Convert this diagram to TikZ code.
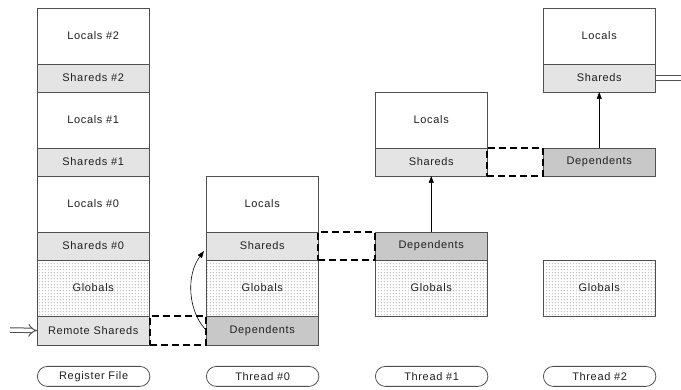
\documentclass[tikz,border=0pt]{standalone}
\usepackage{fontspec}
\setmainfont{Liberation Sans}[LetterSpace=6]
\usetikzlibrary{patterns,arrows.meta}
\definecolor{edge}{HTML}{505050}
\definecolor{shfill}{HTML}{E4E4E4}
\definecolor{depfill}{HTML}{C8C8C8}
\definecolor{txt}{HTML}{202020}
\pgfdeclarepatternformonly{sparsedots}{\pgfqpoint{-1pt}{-1pt}}{\pgfqpoint{2pt}{2pt}}{\pgfqpoint{3pt}{3pt}}{%
  \pgfpathrectangle{\pgfqpoint{0pt}{0pt}}{\pgfqpoint{1pt}{1pt}}\pgfusepath{fill}}
\tikzset{
  cell/.style={draw=edge, line width=0.9pt, anchor=north west, inner sep=0pt, outer sep=0pt,
    minimum width=112.5pt, font=\fontsize{11}{13}\selectfont, text=txt},
  loc/.style={cell, fill=white, minimum height=56pt},
  shr/.style={cell, fill=shfill, minimum height=28pt},
  dep/.style={cell, fill=depfill, minimum height=28pt},
  glob/.style={cell, pattern=sparsedots, pattern color=black!55, minimum height=56pt},
  remote/.style={cell, fill=shfill, minimum height=29pt},
  gap/.style={draw=black, line width=1.8pt, dash pattern=on 7pt off 4pt, anchor=north west,
    inner sep=0pt, outer sep=0pt, minimum width=56pt, minimum height=28pt},
  pill/.style={draw=edge, line width=0.8pt, rounded corners=10pt, anchor=north west, inner sep=0pt,
    minimum width=112.5pt, minimum height=20pt, font=\fontsize{11}{13}\selectfont, text=txt},
  upar/.style={draw=black, line width=0.6pt, -{Triangle[length=7pt,width=5pt]}},
  dbl/.style={draw=edge, line width=1pt, double=white, double distance=3.5pt},
}
\begin{document}
\begin{tikzpicture}[x=1pt,y=-1pt]
\useasboundingbox (0,0) rectangle (681,390);
% Register file
\node[loc] (l2) at (37,8) {Locals \#2};
\node[shr] (s2) at (37,64) {Shareds \#2};
\node[loc] (l1) at (37,92) {Locals \#1};
\node[shr] (s1) at (37,148) {Shareds \#1};
\node[loc] (l0) at (37,176) {Locals \#0};
\node[shr] (s0) at (37,232) {Shareds \#0};
\node[glob] (rg) at (37,260) {Globals};
\node[remote] (rs) at (37,316) {Remote Shareds};
% Thread 0
\node[loc] (t0l) at (206,176) {Locals};
\node[shr] (t0s) at (206,232) {Shareds};
\node[glob] (t0g) at (206,260) {Globals};
\node[remote, fill=depfill] (t0d) at (206,316) {Dependents};
% Thread 1
\node[loc] (t1l) at (375,92) {Locals};
\node[shr] (t1s) at (375,148) {Shareds};
\node[dep] (t1d) at (375,232) {Dependents};
\node[glob] (t1g) at (375,260) {Globals};
% Thread 2
\node[loc] (t2l) at (543,8) {Locals};
\node[shr] (t2s) at (543,64) {Shareds};
\node[dep] (t2d) at (543,148) {Dependents};
\node[glob] (t2g) at (543,260) {Globals};
% dashed gaps
\node[gap, minimum height=29pt] (g0) at (150,316) {};
\node[gap, minimum width=57pt] (g1) at (318,232) {};
\node[gap] (g2) at (487,148) {};
% labels
\node[pill] (p0) at (37,366) {Register File};
\node[pill] (p1) at (206,366) {Thread \#0};
\node[pill] (p2) at (375,366) {Thread \#1};
\node[pill] (p3) at (543,366) {Thread \#2};
% arrows
\draw[upar] (t1d.north) -- (t1s.south);
\draw[upar] (t2d.north) -- (t2s.south);
\coordinate (ct) at (204,251);
\coordinate (cs) at (205,329);
\draw[upar] (cs) .. controls (188,310) and (186,275) .. (ct);
% double arrows
\coordinate (lin) at (10,330);
\draw[dbl, -{Implies[length=8pt]}] (lin) -- (rs.west);
\coordinate (rout) at (682,78);
\draw[dbl] (t2s.east) -- (rout);
\end{tikzpicture}
\end{document}
